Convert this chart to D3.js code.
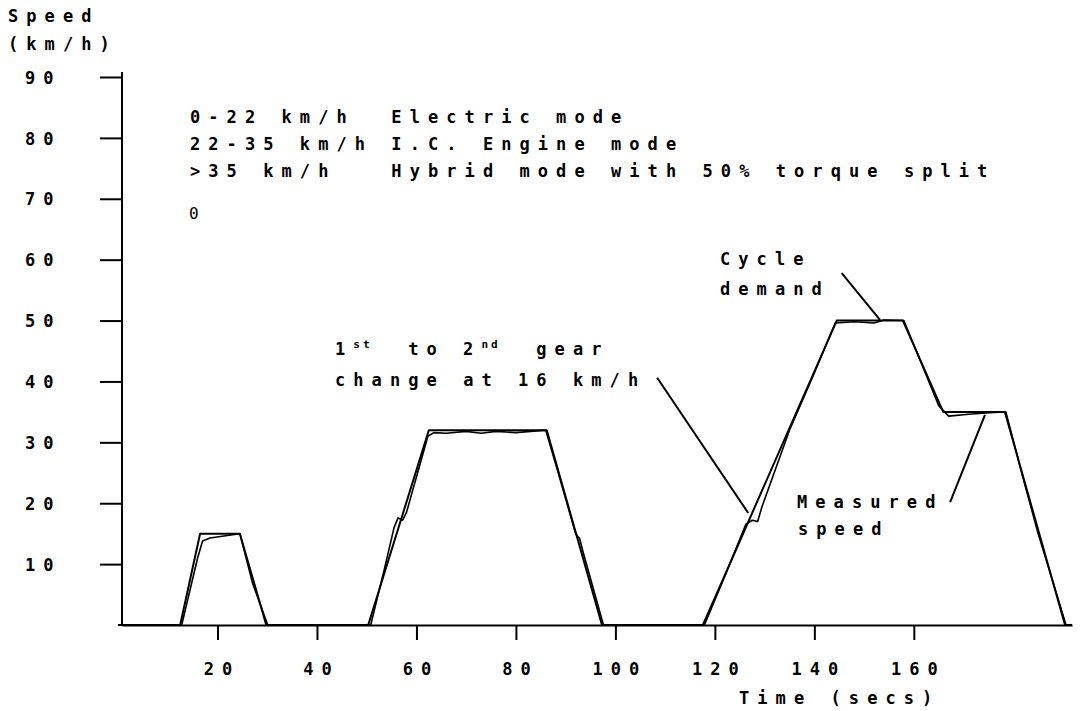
<!DOCTYPE html>
<html>
<head>
<meta charset="utf-8">
<script src="https://cdn.jsdelivr.net/npm/d3@7"></script>
<style>
  html, body { margin: 0; padding: 0; background: #fff; }
  svg { display: block; }
  .t { font-family: "DejaVu Sans Mono", monospace; font-weight: bold; font-size: 17px; letter-spacing: 8.07px; fill: #000; white-space: pre; }
</style>
</head>
<body>
<script>
// ---- Data ----
const xTicks = [20, 40, 60, 80, 100, 120, 140, 160];
const yTicks = [10, 20, 30, 40, 50, 60, 70, 80, 90];

// Cycle demand (time s, speed km/h)
const demandTime  = [0, 12.5, 16.5, 24.5, 29.8, 50.3, 62.5, 86.2, 97.3, 117.6, 144.5, 157.8, 165.9, 178.3, 190.4, 191.8];
const demandSpeed = [0, 0,    15,   15,   0,    0,    32,   32,   0,    0,     50,    50,    35,    35,    0,     0];

// Measured speed (time s, speed km/h)
const measuredTime  = [0, 12.8, 16, 17, 18.5, 22, 24.5, 27, 30.1,
  50.8, 53.5, 55.5, 56.3, 57.2, 58, 62.3, 63.5, 66, 70, 73, 76, 80, 86, 88.5, 92, 92.8, 93.5, 97.6,
  117.9, 122, 126.2, 127.5, 128.6, 129.5, 135, 140, 144.2, 148, 152, 154, 158, 162, 165, 167, 171, 176, 178.5, 182, 185, 188, 190.6, 191.8];
const measuredSpeed = [0, 0, 11, 13.8, 14.3, 14.7, 15, 7, 0,
  0, 9, 16, 17.6, 17.2, 18.5, 31, 31.6, 31.5, 31.8, 31.5, 31.8, 31.6, 32, 25, 15, 14.2, 12, 0,
  0, 8, 16.5, 17.2, 17, 19.5, 32, 41.4, 49.6, 49.8, 49.6, 50.1, 50, 42, 36, 34.3, 34.6, 34.9, 35, 24, 15, 7, 0, 0];

// Text
const yTitle = ["Speed", "(km/h)"];
const xTitle = "Time (secs)";
const legendLines = ["0-22 km/h  Electric mode", "22-35 km/h I.C. Engine mode", ">35 km/h   Hybrid mode with 50% torque split"];
const demandLabel = ["Cycle", "demand"];
const measuredLabel = ["Measured", "speed"];
const gearLine2 = "change at 16 km/h";

// Leader lines in data units [t1, v1, t2, v2]
const leaderDemand   = [145.5, 57.8, 153.2, 50.1];
const leaderMeasured = [167.3, 20.2, 174.3, 34.5];
const leaderGear     = [108.4, 40.6, 126.7, 18.4];

// ---- Drawing ----
const W = 1087, H = 711;
const svg = d3.select("body").append("svg").attr("width", W).attr("height", H);

const x = d3.scaleLinear().domain([0.8, 191.8]).range([122, 1072]);
const y = d3.scaleLinear().domain([0, 90]).range([625, 77]);

// X axis
const xAxis = d3.axisBottom(x).tickValues(xTicks).tickSize(15).tickSizeOuter(0).tickPadding(23).tickFormat(d3.format("d"));
const gx = svg.append("g").attr("transform", `translate(0,${y(0)})`).call(xAxis);
gx.select(".domain").attr("stroke", "#000").attr("stroke-width", 2);
gx.selectAll(".tick line").attr("stroke", "#000").attr("stroke-width", 2);
gx.selectAll(".tick text").attr("class", "t").attr("font-size", null).attr("font-family", null)
  .attr("text-anchor", "start").attr("dx", function(d){ return -(String(d).length * 18.3 - 8) / 2; });

// Y axis
const yAxis = d3.axisLeft(y).tickValues(yTicks).tickSize(22).tickSizeOuter(0).tickPadding(0).tickFormat(d3.format("d"));
const gy = svg.append("g").attr("transform", `translate(${x(0.8)},0)`).call(yAxis);
gy.select(".domain").attr("d", `M0,${y(0)}V${y(90) - 5}`).attr("stroke", "#000").attr("stroke-width", 2);
gy.selectAll(".tick line").attr("stroke", "#000").attr("stroke-width", 2);
gy.selectAll(".tick text").attr("class", "t").attr("font-size", null).attr("font-family", null)
  .attr("text-anchor", "start").attr("x", 25 - 122).attr("dy", "0.36em");

// Lines
const line = d3.line().x(d => x(d[0])).y(d => y(d[1]));
const demandPts = demandTime.map((t, i) => [t, demandSpeed[i]]);
const measuredPts = measuredTime.map((t, i) => [t, measuredSpeed[i]]);

svg.append("path").datum(measuredPts).attr("d", line)
  .attr("fill", "none").attr("stroke", "#000").attr("stroke-width", 1.6).attr("stroke-linejoin", "round");
svg.append("path").datum(demandPts).attr("d", line)
  .attr("fill", "none").attr("stroke", "#000").attr("stroke-width", 2).attr("stroke-linejoin", "round");

// Leader lines
[leaderDemand, leaderMeasured, leaderGear].forEach(l => {
  svg.append("line").attr("x1", x(l[0])).attr("y1", y(l[1])).attr("x2", x(l[2])).attr("y2", y(l[3]))
    .attr("stroke", "#000").attr("stroke-width", 2);
});

// Texts
function txt(s, px, py) {
  return svg.append("text").attr("class", "t").attr("x", px).attr("y", py).attr("xml:space", "preserve").text(s);
}
txt(yTitle[0], 8, 22);
txt(yTitle[1], 8, 50);
legendLines.forEach((s, i) => txt(s, 190, 123 + i * 27));
svg.append("text").attr("x", 189).attr("y", 219)
  .style("font-family", "DejaVu Sans Mono").style("font-size", "16px").text("0");
txt(demandLabel[0], 720, 265);
txt(demandLabel[1], 720, 295);
txt(measuredLabel[0], 797, 508);
txt(measuredLabel[1], 798, 535);
txt(xTitle, 739, 704);

// Gear annotation with superscripts
const pitch = 18.3, gx0 = 335;
const g1 = svg.append("text").attr("class", "t").attr("y", 355);
g1.append("tspan").attr("x", gx0).text("1");
g1.append("tspan").attr("x", gx0 + pitch * 1).attr("dy", -7).style("font-size", "11px").style("letter-spacing", "3px").text("st");
g1.append("tspan").attr("x", gx0 + pitch * 4).attr("dy", 7).text("to");
g1.append("tspan").attr("x", gx0 + pitch * 7).text("2");
g1.append("tspan").attr("x", gx0 + pitch * 8).attr("dy", -7).style("font-size", "11px").style("letter-spacing", "3px").text("nd");
g1.append("tspan").attr("x", gx0 + pitch * 11).attr("dy", 7).text("gear");
txt(gearLine2, gx0, 386);
</script>
</body>
</html>
